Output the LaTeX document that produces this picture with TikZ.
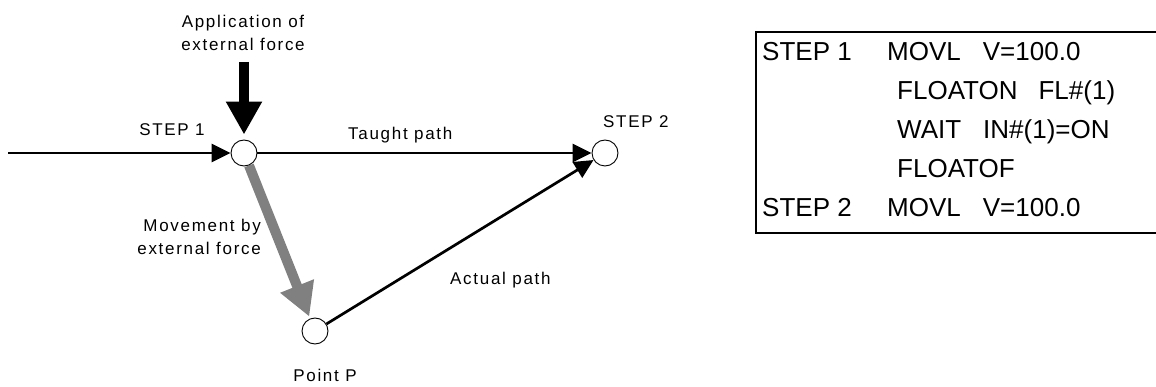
\documentclass[tikz,border=0pt]{standalone}
\usepackage{fontspec}
\setmainfont{Liberation Sans}
\newfontfamily\lblfont[LetterSpace=10]{Liberation Sans}
\usetikzlibrary{arrows.meta,backgrounds}
\begin{document}
\begin{tikzpicture}[x=1pt,y=-1pt,
  station/.style={circle,draw,line width=0.9pt,minimum size=26pt,inner sep=0pt,fill=white},
  lbl/.style={font=\fontsize{17}{23}\lblfont,inner sep=0pt},
  code/.style={font=\fontsize{26}{30}\selectfont,inner sep=0pt,anchor=base west},
  route/.style={line width=2.7pt,-{Triangle[length=19pt,width=18pt]}},
  push/.style={line width=10pt,-{Triangle[length=33pt,width=34pt]}},
]
\useasboundingbox (0,0) rectangle (1156,387);

% teaching points
\node[station] (s1) at (244,153) {};
\node[station] (s2) at (605,153) {};
\node[station] (p)  at (315,331) {};
\coordinate (in)   at (8,153);
\coordinate (ftop) at (244,62);

\begin{scope}[on background layer]
  \draw[route] (in) -- (s1);
  \draw[route] (s1) -- (s2);
  \draw[route] (p) -- (s2);
  \draw[push,shorten >=5pt] (ftop) -- (s1);
  \draw[push,black!50,shorten >=2pt] (s1) -- (p);
\end{scope}

% labels
\node[lbl,align=center] (app) at (243,33) {Application of\\external force};
\node[lbl] (l1) at (172,130) {STEP 1};
\node[lbl,anchor=west] (taught) at (348,135) {Taught path};
\node[lbl,anchor=west] (l2) at (603,122) {STEP 2};
\node[lbl,align=right,anchor=east] (mv) at (261,237) {Movement by\\external force};
\node[lbl,anchor=west] (actual) at (450,280) {Actual path};
\node[lbl] (pp) at (325,375) {Point P};

% job listing
\draw[line width=1.5pt] (1156,32) -- (756,32) -- (756,233) -- (1156,233);
\node[code] (j1a) at (762,61)  {STEP 1};
\node[code] (j1b) at (887,61)  {MOVL\hspace{22pt}V=100.0};
\node[code] (j2)  at (897,100) {FLOATON\hspace{21pt}FL\#(1)};
\node[code] (j3)  at (897,139) {WAIT\hspace{22pt}IN\#(1)=ON};
\node[code] (j4)  at (897,178) {FLOATOF};
\node[code] (j5a) at (762,217) {STEP 2};
\node[code] (j5b) at (887,217) {MOVL\hspace{22pt}V=100.0};
\end{tikzpicture}
\end{document}
